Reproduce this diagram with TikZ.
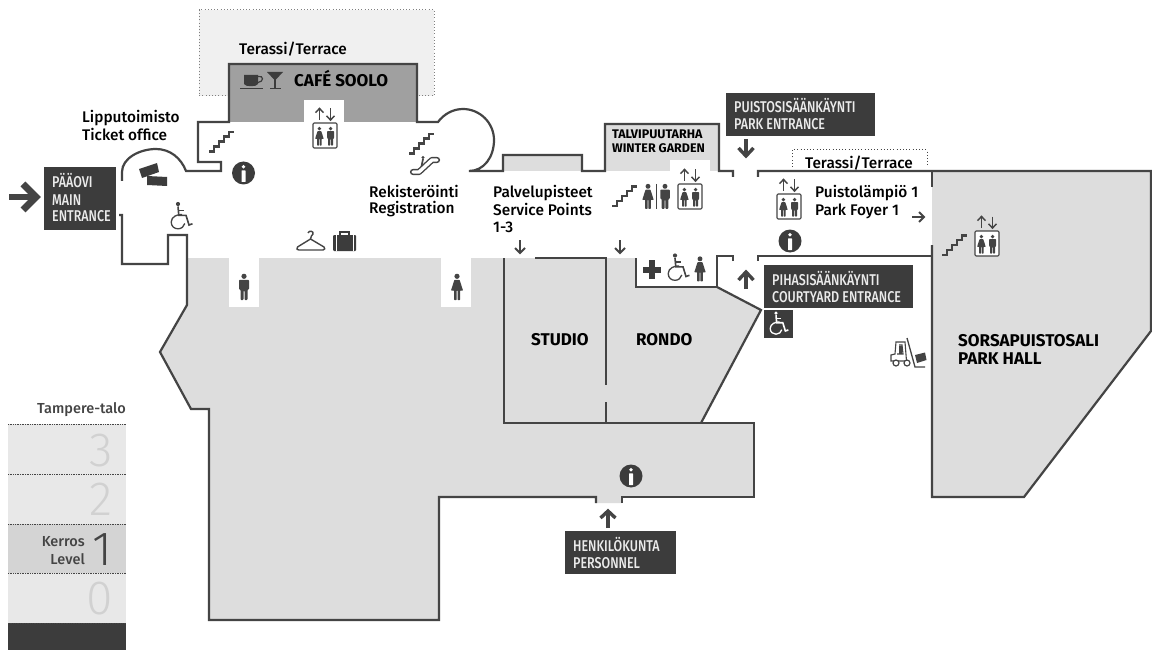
\documentclass[tikz,border=0pt]{standalone}
\usepackage{fontspec}
\setmainfont{Fira Sans}
\newfontfamily\condf[FakeStretch=0.8]{Fira Sans Medium}
\newfontfamily\medf{Fira Sans Medium}
\newfontfamily\lightf{Fira Sans Light}
\definecolor{ink}{HTML}{444444}
\definecolor{darkbox}{HTML}{3C3C3C}
\definecolor{hall}{HTML}{DDDDDD}
\definecolor{cafe}{HTML}{A0A0A0}
\definecolor{terr}{HTML}{F0F0F0}
\definecolor{lev}{HTML}{E8E8E8}
\definecolor{levon}{HTML}{D4D4D4}
\colorlet{wc}{ink}
\tikzset{
  wall/.style={draw=ink,line width=2.2pt,line join=miter},
  lab/.style={anchor=base west,inner sep=0pt,text=black,font=\medf\fontsize{15.4}{17}\selectfont},
  boldlab/.style={anchor=base west,inner sep=0pt,text=black},
  boxlab/.style={anchor=base west,inner sep=0pt,text=white!92!black,font=\condf\fontsize{15.6}{17}\selectfont},
  dbox/.style={fill=darkbox,draw=none},
  digit/.style={anchor=base east,inner sep=0pt,text=black!18,font=\lightf\fontsize{48}{48}\selectfont},
  levlab/.style={anchor=base east,inner sep=0pt,text=ink,font=\medf\fontsize{14.5}{16}\selectfont},
  thinarrow/.style={draw=ink,line width=1.5pt},
  midarrow/.style={draw=ink,line width=2pt},
  bigarrow/.style={draw=ink,line width=3.4pt},
  dotleg/.style={draw=ink,line width=.8pt,dash pattern=on .8pt off .9pt},
  man/.pic={
    \fill[ink] (0,-10.7) circle (2.6);
    \fill[ink,rounded corners=.8pt] (-5,-7.2)--(5,-7.2)--(5,2.5)--(3.5,2.5)--(3.5,13)--(.5,13)--(.5,3.5)--(-.5,3.5)--(-.5,13)--(-3.5,13)--(-3.5,2.5)--(-5,2.5)--cycle;
  },
  woman/.pic={
    \fill[ink] (0,-10.7) circle (2.6);
    \fill[ink,rounded corners=.5pt] (-2.6,-7.2)--(2.6,-7.2)--(6,3.5)--(3,3.5)--(3,13)--(.5,13)--(.5,3.5)--(-.5,3.5)--(-.5,13)--(-3,13)--(-3,3.5)--(-6,3.5)--cycle;
  },
  liftframe/.pic={
    \draw[ink,fill=white,line width=1.1pt,rounded corners=1.2pt] (-12,-12.5) rectangle (12,12.5);
    \pic[scale=.72] at (-5.6,.8) {woman};
    \pic[scale=.72] at (5.6,.8) {man};
    \draw[thinarrow] (-5.5,-15.5)--(-5.5,-27);
    \draw[thinarrow] (-9.5,-22.8)--(-5.5,-27)--(-1.5,-22.8);
    \draw[thinarrow] (5.5,-27)--(5.5,-15.5);
    \draw[thinarrow] (1.5,-19.7)--(5.5,-15.5)--(9.5,-19.7);
  },
  stairs/.pic={
    \draw[ink,line width=2.4pt] (0,0)--(5,0)--(5,-5)--(10,-5)--(10,-10)--(15,-10)--(15,-15)--(20,-15)--(20,-19.5)--(25,-19.5);
  },
  info/.pic={
    \fill[darkbox] (0,0) circle (11.5);
    \fill[white] (0,-6.2) circle (1.9);
    \fill[white,rounded corners=.4pt] (-2,-2.6)--(2,-2.6)--(2,9)--(-2,9)--cycle;
  },
  wheelchair/.pic={
    \draw[wc,line width=1.3pt] (4.2,-7) .. controls (0,-7.5) and (-6.8,-5) .. (-6.8,0.5) .. controls (-6.8,5) and (-3.5,7.3) .. (0,7.3) .. controls (3.5,7.3) and (6,5) .. (6.8,2);
    \fill[wc] (0,-17.5) circle (2.1);
    \draw[wc,line width=1.6pt] (0,-15)--(.8,-6.2)--(8,-6.2)--(11,3.5)--(14.5,2.3);
    \draw[wc,line width=1.6pt] (.4,-11)--(6,-11);
  },
}
\begin{document}
\begin{tikzpicture}[x=1pt,y=-1pt]
\useasboundingbox (0,0) rectangle (1152,650);
\fill[white] (0,0) rectangle (1152,650);
% terraces
\fill[terr] (199,10) rectangle (434,96);
\draw[black!50,line width=1pt,dash pattern=on 1pt off 2.2pt] (229,96)--(199,96)--(199,10)--(434,10)--(434,96)--(417,96);
\draw[ink,line width=1pt,dash pattern=on 1pt off 2.2pt] (792,167)--(792,150)--(927,150)--(927,167);
% fills
\fill[cafe] (229,64) rectangle (417,122);
\fill[white] (304,100) rectangle (344,124);
\fill[hall] (605,124) rectangle (719,171);
\fill[white] (670,160) rectangle (710,172);
\fill[hall] (503,155) rectangle (582,171);
\fill[hall] (187,258)--(636,258)--(636,287)--(717,287)--(761,310)--(701,423)--(754,423)--(754,497)--(622,497)--(622,503)--(596,503)--(596,497)--(439,497)--(439,620)--(209,620)--(209,409)--(191,409)--(160,352)--(187,305)--cycle;
\fill[white] (229,257) rectangle (259,307);
\fill[white] (441,257) rectangle (471,307);
\fill[hall] (932,171)--(1151,171)--(1151,331)--(1024,497)--(932,497)--cycle;
% walls
\draw[wall] (122,181)--(122,172) .. controls (122,158) and (140,149) .. (156,149) .. controls (170,149) and (181,158) .. (186,171)--(221,171)--(221,162)--(198,162)--(198,122)--(229,122)--(229,64)--(417,64)--(417,122)--(438,122) .. controls (444,114) and (453,109) .. (463,109) .. controls (480,109) and (494,123) .. (494,140) .. controls (494,157) and (484,171) .. (469,171)--(503,171)--(503,155)--(582,155)--(582,171)--(605,171)--(605,124)--(719,124)--(719,171)--(733,171)--(733,177);
\draw[wall] (758,177)--(758,171)--(1151,171)--(1151,331)--(1024,497)--(932,497)--(932,245);
\draw[wall] (932,171)--(932,187);
\draw[wall] (932,256)--(758,256)--(758,261);
\draw[wall] (733,261)--(733,256)--(717,256)--(717,287)--(636,287)--(636,258);
\draw[wall] (717,287)--(761,310)--(701,423);
\draw[wall] (535,258)--(606,258)--(606,385);
\draw[wall] (606,402)--(606,423);
\draw[wall] (504,258)--(504,423)--(754,423)--(754,497)--(622,497)--(622,503);
\draw[wall] (596,503)--(596,497)--(439,497)--(439,620)--(209,620)--(209,409)--(191,409)--(160,352)--(187,305)--(187,235)--(168,235)--(168,264)--(122,264)--(122,215)--(119,215);
% dark boxes
\fill[dbox] (44,167) rectangle (116,230);
\fill[dbox] (726,93) rectangle (875,136);
\fill[dbox] (764,265) rectangle (913,308);
\fill[dbox] (764,310) rectangle (793,338);
\fill[dbox] (565,531) rectangle (676,574);
\node[boxlab] (paa1) at (52,188) {PÄÄOVI};
\node[boxlab] (paa2) at (52,205) {MAIN};
\node[boxlab] (paa3) at (52,222) {ENTRANCE};
\node[boxlab] (pui1) at (734,113) {PUISTOSISÄÄNKÄYNTI};
\node[boxlab] (pui2) at (734,130) {PARK ENTRANCE};
\node[boxlab] (pih1) at (772,285) {PIHASISÄÄNKÄYNTI};
\node[boxlab] (pih2) at (772,302) {COURTYARD ENTRANCE};
\node[boxlab] (hen1) at (573,551) {HENKILÖKUNTA};
\node[boxlab] (hen2) at (573,568) {PERSONNEL};
% text labels
\node[lab] (t1) at (239,55) {Terassi/Terrace};
\node[lab] (t2) at (82,123) {Lipputoimisto};
\node[lab] (t3) at (82,141) {Ticket office};
\node[lab] (t4) at (369,197) {Rekisteröinti};
\node[lab] (t5) at (369,214) {Registration};
\node[lab] (t6) at (493,197) {Palvelupisteet};
\node[lab] (t7) at (493,215) {Service Points};
\node[lab] (t8) at (493,233) {1-3};
\node[lab] (t9) at (815,197) {Puistolämpiö 1};
\node[lab] (t10) at (815,215) {Park Foyer 1};
\node[lab] (t11) at (805,168) {Terassi/Terrace};
\node[boldlab,font=\bfseries\fontsize{17}{19}\selectfont] (b1) at (294,87) {CAFÉ SOOLO};
\node[boldlab,font=\bfseries\fontsize{12.5}{14}\selectfont] (b2) at (612,139) {TALVIPUUTARHA};
\node[boldlab,font=\bfseries\fontsize{12.5}{14}\selectfont] (b3) at (612,153) {WINTER GARDEN};
\node[boldlab,font=\bfseries\fontsize{17}{19}\selectfont] (b4) at (531,345) {STUDIO};
\node[boldlab,font=\bfseries\fontsize{17}{19}\selectfont] (b5) at (636,345) {RONDO};
\node[boldlab,font=\bfseries\fontsize{17}{19}\selectfont] (b6) at (958,346) {SORSAPUISTOSALI};
\node[boldlab,font=\bfseries\fontsize{17}{19}\selectfont] (b7) at (958,364) {PARK HALL};
% legend
\fill[lev] (8,424) rectangle (126,524);
\fill[levon] (8,524) rectangle (126,573);
\fill[lev] (8,573) rectangle (126,623);
\fill[darkbox] (8,623) rectangle (126,650);
\foreach \yy in {424,474,524,573,623} \draw[dotleg] (8,\yy)--(126,\yy);
\node[levlab] (lg0) at (126,413) {Tampere-talo};
\node[digit] (d3) at (113,466) {3};
\node[digit] (d2) at (113,515) {2};
\node[digit,text=ink] (d1) at (113,565) {1};
\node[digit] (d0) at (113,614) {0};
\node[levlab] (lg1) at (85,546) {Kerros};
\node[levlab] (lg2) at (85,564) {Level};
% icons
\pic at (209,151.5) {stairs};
\pic at (409,153.5) {stairs};
\pic at (612,206) {stairs};
\pic at (942,255) {stairs};
\pic at (325,135.5) {liftframe};
\pic at (690,196.5) {liftframe};
\pic at (789,206.5) {liftframe};
\pic at (987,243.5) {liftframe};
\pic at (243.5,173) {info};
\pic at (790,241) {info};
\pic at (631,476) {info};
\pic at (244,287) {man};
\pic at (457,287) {woman};
\pic[scale=.95] at (648,196.5) {woman};
\pic[scale=.95] at (665,196.5) {man};
\draw[ink,line width=1.4pt] (656.5,184)--(656.5,209);
\pic[scale=.95] at (700,269) {woman};
\pic at (178,221.5) {wheelchair};
\pic at (675,273) {wheelchair};
\begin{scope}
\colorlet{wc}{white}
\pic[scale=.85] at (776,328) {wheelchair};
\end{scope}
\fill[darkbox] (649,260) rectangle (655,279);
\fill[darkbox] (643,266.5) rectangle (661,272.5);
% tickets
\fill[darkbox] (139,169)--(157,163)--(159,172)--(142,178)--cycle;
\fill[darkbox] (147,176)--(167,177)--(167,186)--(147,185)--cycle;
% cup and glass
\fill[darkbox] (244,75) rectangle (258,84) (244,84) .. controls (245,87) and (257,87) .. (258,84);
\draw[darkbox,line width=1.2pt] (258,76.5) .. controls (264,75) and (264,82) .. (258,82.5);
\draw[darkbox,line width=1.2pt] (240,88.3)--(263,88.3);
\fill[darkbox] (267,72)--(283,72)--(275.5,80)--(274.5,80)--cycle;
\draw[darkbox,line width=1.3pt] (275,79)--(275,88);
\draw[darkbox,line width=1.3pt] (270,88.3)--(281,88.3);
% hanger and suitcase
\draw[ink,line width=1.4pt,line join=round] (308,233) .. controls (309,230) and (314,231) .. (313,234) .. controls (312,236) and (310.5,236) .. (310.5,239)--(297.5,247) .. controls (296,249) and (297,250) .. (299,250)--(323,250) .. controls (325,250) and (325.5,248) .. (324,247)--(310.5,239);
\fill[darkbox,rounded corners=1pt] (333,235) rectangle (356,251);
\draw[darkbox,line width=1.2pt] (340,235)--(340,232)--(349,232)--(349,235);
\draw[white,line width=.7pt] (336,235)--(336,251) (353,235)--(353,251);
% escalator
\draw[ink,line width=6.2pt,line cap=round,line join=round] (413,172)--(419,172)--(432,160)--(437,160);
\draw[white,line width=3.4pt,line cap=round,line join=round] (413,172)--(419,172)--(432,160)--(437,160);
\fill[ink] (423,157.5) circle (1.6);
\draw[ink,line width=1.7pt] (423,159)--(421.5,166.5);
% forklift
\draw[ink,line width=1.1pt,fill=white] (891,361)--(891,355)--(895,354)--(896,342)--(905,342)--(906.5,361)--cycle;
\draw[ink,line width=1.1pt] (899,345)--(902,345)--(903,354)--(897,354);
\fill[ink] (899,346) rectangle (902,354);
\draw[ink,line width=1.3pt] (907,338)--(915,367)--(925,367);
\fill[ink] (915,355)--(925,352.5)--(926.5,360)--(917,363)--cycle;
\draw[ink,line width=1.2pt,fill=white] (896,363) circle (3);
\draw[ink,line width=1.2pt,fill=white] (907,363) circle (3);
% arrows
\draw[ink,line width=6pt] (9,197)--(34,197);
\draw[ink,line width=7pt,miter limit=10] (23,184)--(36,197)--(23,210);
\draw[bigarrow] (746,139)--(746,156);
\draw[bigarrow] (738.5,148)--(746,156)--(753.5,148);
\draw[bigarrow] (746,289)--(746,272);
\draw[bigarrow] (738.5,280)--(746,272)--(753.5,280);
\draw[bigarrow] (608,528)--(608,511);
\draw[bigarrow] (600.5,518)--(608,511)--(615.5,518);
\draw[midarrow] (520,240)--(520,253);
\draw[midarrow] (515,248)--(520,253)--(525,248);
\draw[midarrow] (620,240)--(620,253);
\draw[midarrow] (615,248)--(620,253)--(625,248);
\draw[midarrow] (912,217)--(924,217);
\draw[midarrow] (919,212)--(924,217)--(919,222);
\end{tikzpicture}
\end{document}
